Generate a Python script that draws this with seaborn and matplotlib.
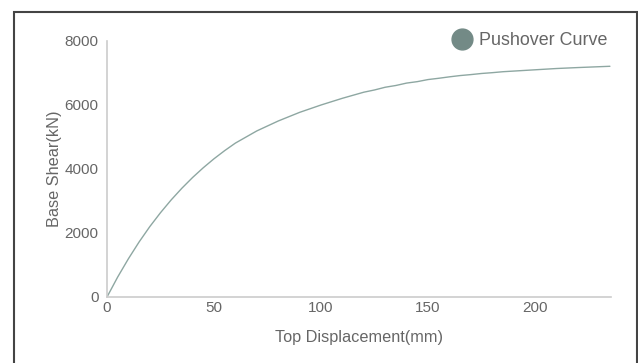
import matplotlib
matplotlib.use("Agg")
import matplotlib.pyplot as plt
import seaborn as sns
import pandas as pd
from matplotlib.lines import Line2D
from matplotlib.patches import Rectangle

# pushover curve values
displacement = [0, 5, 10, 15, 20, 25, 30, 35, 40, 45, 50, 55, 60, 70, 80, 90,
                100, 110, 120, 125, 130, 135, 140, 145, 150, 155, 160, 165,
                170, 175, 180, 185, 190, 200, 210, 220, 235]
base_shear = [0, 625, 1195, 1720, 2200, 2635, 3035, 3400, 3735, 4040, 4320,
              4575, 4810, 5190, 5500, 5770, 6000, 6210, 6400, 6470, 6555,
              6610, 6685, 6730, 6795, 6835, 6880, 6920, 6950, 6985, 7010,
              7040, 7060, 7100, 7140, 7170, 7210]
x_ticks = [0, 50, 100, 150, 200]
y_ticks = [0, 2000, 4000, 6000, 8000]

df = pd.DataFrame({"Top Displacement(mm)": displacement, "Base Shear(kN)": base_shear})

sns.set_style("white")
plt.rcParams["font.family"] = ["Liberation Sans", "DejaVu Sans"]

fig = plt.figure(figsize=(6.38, 3.63), dpi=100)
ax = fig.add_axes([107 / 638, 66 / 363, 504 / 638, 256 / 363])

line_col = "#8ea7a2"
sns.lineplot(data=df, x="Top Displacement(mm)", y="Base Shear(kN)", ax=ax,
             color=line_col, linewidth=1.0)

ax.set_xlim(0, 235.5)
ax.set_ylim(0, 8000)
ax.set_xticks(x_ticks)
ax.set_yticks(y_ticks)
ax.tick_params(length=0, colors="#666666", labelsize=11)
ax.tick_params(axis="y", pad=6)
ax.tick_params(axis="x", pad=3)
for s in ["top", "right"]:
    ax.spines[s].set_visible(False)
for s in ["left", "bottom"]:
    ax.spines[s].set_color("#cccccc")
    ax.spines[s].set_linewidth(1.2)

ax.set_xlabel("Top Displacement(mm)", color="#666666", fontsize=11.7, labelpad=11)
ax.set_ylabel("Base Shear(kN)", color="#666666", fontsize=11.7, labelpad=2)

# legend with a round marker
handle = Line2D([], [], marker="o", ls="", color="#738a86", markersize=15)
leg = ax.legend([handle], ["Pushover Curve"], loc="center right", frameon=False,
                fontsize=12.9, labelcolor="#666666", handletextpad=0.0,
                bbox_to_anchor=(1.008, 1.0), borderaxespad=0)

# outer frame
fig.patches.append(Rectangle((14 / 638, -0.05), 623 / 638, 1 - 12 / 363 + 0.05,
                             transform=fig.transFigure, fill=False,
                             edgecolor="#444444", linewidth=1.5))

fig.savefig("out.png", dpi=100)
